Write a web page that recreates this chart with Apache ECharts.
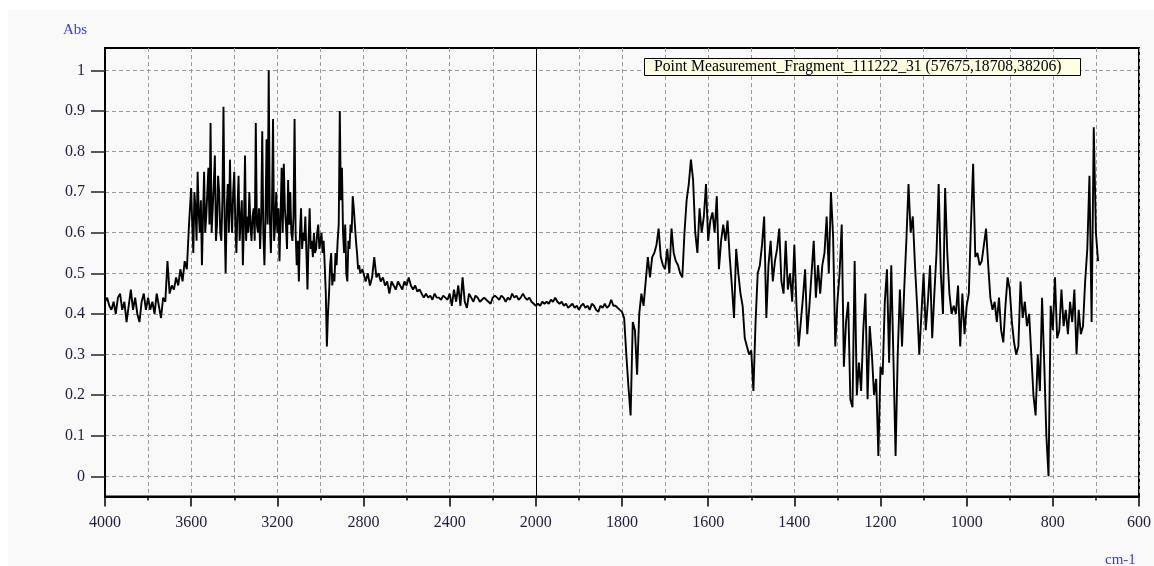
<!DOCTYPE html>
<html><head><meta charset="utf-8">
<script src="https://cdn.jsdelivr.net/npm/echarts@6/dist/echarts.min.js"></script>
<style>
html,body{margin:0;padding:0;background:#fff;}
#chart{position:absolute;left:0;top:0;width:1154px;height:566px;}
</style></head>
<body><div id="chart"></div>
<script>
// Absorbance read off the spectrum, in four sampled stretches (cm-1)
// 4000 -> 3610, step 10
const absA = [
  0.43,0.44,0.42,0.41,0.43,0.40,0.44,0.45,0.41,0.43,
  0.38,0.42,0.46,0.41,0.44,0.40,0.38,0.43,0.45,0.41,
  0.44,0.41,0.43,0.40,0.45,0.42,0.39,0.44,0.43,0.53,
  0.45,0.47,0.46,0.49,0.47,0.51,0.48,0.53,0.51,0.62
];
// 3600 -> 2805, step 5
const absB = [
  0.71,0.62,0.55,0.70,0.66,0.58,0.75,0.65,0.60,0.68,
  0.52,0.64,0.75,0.60,0.64,0.70,0.76,0.62,0.87,0.60,
  0.66,0.72,0.79,0.58,0.62,0.74,0.70,0.60,0.58,0.68,
  0.91,0.64,0.50,0.66,0.72,0.60,0.78,0.66,0.60,0.70,
  0.75,0.62,0.55,0.66,0.74,0.58,0.63,0.68,0.52,0.62,
  0.79,0.58,0.64,0.60,0.70,0.62,0.58,0.64,0.66,0.58,
  0.87,0.62,0.60,0.66,0.56,0.64,0.85,0.60,0.52,0.64,
  0.83,0.62,1.00,0.64,0.55,0.66,0.88,0.58,0.62,0.70,
  0.60,0.66,0.53,0.64,0.76,0.60,0.77,0.66,0.62,0.56,
  0.73,0.62,0.70,0.60,0.58,0.64,0.88,0.60,0.52,0.58,
  0.48,0.60,0.66,0.56,0.60,0.58,0.64,0.55,0.46,0.58,
  0.66,0.56,0.58,0.54,0.60,0.55,0.56,0.60,0.62,0.56,
  0.58,0.60,0.55,0.58,0.52,0.45,0.32,0.40,0.45,0.52,
  0.55,0.47,0.50,0.48,0.55,0.52,0.58,0.62,0.90,0.68,
  0.76,0.60,0.55,0.62,0.50,0.48,0.58,0.56,0.62,0.60,
  0.69,0.66,0.62,0.58,0.55,0.51,0.52,0.50,0.50,0.51
];
// 2800 -> 2010, step 10
const absC = [
  0.51,0.48,0.50,0.47,0.49,0.54,0.49,0.50,0.48,0.49,
  0.47,0.48,0.45,0.48,0.47,0.46,0.48,0.47,0.46,0.48,
  0.47,0.49,0.47,0.46,0.47,0.455,0.46,0.45,0.44,0.45,
  0.44,0.445,0.435,0.45,0.44,0.44,0.435,0.445,0.44,0.435,
  0.45,0.42,0.46,0.43,0.47,0.42,0.49,0.43,0.415,0.45,
  0.44,0.43,0.445,0.44,0.43,0.435,0.44,0.435,0.43,0.425,
  0.44,0.445,0.44,0.435,0.445,0.44,0.43,0.44,0.435,0.45,
  0.44,0.445,0.435,0.44,0.45,0.44,0.435,0.44,0.43,0.425
];
// 2000 -> 695, step 5
const absD = [
  0.42,0.425,0.42,0.43,0.425,0.43,0.425,0.435,0.43,0.44,
  0.43,0.425,0.43,0.42,0.425,0.415,0.42,0.425,0.415,0.42,
  0.41,0.42,0.425,0.415,0.42,0.41,0.425,0.42,0.41,0.405,
  0.42,0.415,0.425,0.415,0.42,0.435,0.42,0.42,0.415,0.41,
  0.405,0.39,0.30,0.22,0.15,0.38,0.36,0.25,0.40,0.45,
  0.42,0.48,0.54,0.49,0.54,0.55,0.57,0.61,0.54,0.52,
  0.51,0.56,0.50,0.61,0.55,0.53,0.52,0.50,0.49,0.60,
  0.68,0.72,0.78,0.73,0.60,0.55,0.66,0.60,0.64,0.72,
  0.58,0.63,0.65,0.60,0.69,0.51,0.58,0.62,0.58,0.63,
  0.54,0.47,0.39,0.56,0.50,0.45,0.42,0.34,0.32,0.30,
  0.31,0.21,0.38,0.50,0.52,0.57,0.64,0.39,0.52,0.58,
  0.48,0.53,0.56,0.61,0.48,0.45,0.58,0.46,0.50,0.43,
  0.57,0.42,0.32,0.38,0.44,0.51,0.35,0.42,0.50,0.58,
  0.44,0.52,0.45,0.52,0.55,0.64,0.50,0.70,0.59,0.32,
  0.43,0.50,0.62,0.27,0.38,0.43,0.19,0.17,0.53,0.20,
  0.28,0.21,0.36,0.45,0.19,0.37,0.30,0.20,0.24,0.05,
  0.27,0.25,0.43,0.51,0.28,0.52,0.29,0.05,0.30,0.46,
  0.32,0.46,0.58,0.72,0.60,0.64,0.52,0.42,0.30,0.40,
  0.50,0.36,0.43,0.52,0.34,0.45,0.55,0.72,0.50,0.40,
  0.71,0.55,0.45,0.40,0.42,0.40,0.47,0.32,0.45,0.35,
  0.42,0.45,0.62,0.77,0.54,0.55,0.52,0.53,0.57,0.61,
  0.52,0.44,0.41,0.43,0.38,0.44,0.36,0.33,0.42,0.49,
  0.46,0.38,0.33,0.30,0.32,0.48,0.39,0.43,0.37,0.40,
  0.30,0.20,0.15,0.30,0.21,0.44,0.28,0.10,0.00,0.42,
  0.36,0.49,0.34,0.36,0.46,0.37,0.41,0.35,0.43,0.38,
  0.46,0.30,0.41,0.35,0.37,0.48,0.56,0.74,0.38,0.86,
  0.60,0.53
];
// [start wavenumber, step] of each stretch
const segStarts = [4000, 3600, 2800, 2000];
const segSteps  = [10, 5, 10, 5];

const yTicks = [0,0.1,0.2,0.3,0.4,0.5,0.6,0.7,0.8,0.9,1];
const xTickLabels = ['4000','3600','3200','2800','2400','2000','1800','1600','1400','1200','1000','800','600'];
const legendText = 'Point Measurement_Fragment_111222_31 (57675,18708,38206)';
const yName = 'Abs', xName = 'cm-1';

// The axis is compressed 2:1 above 2000 cm-1 (common FTIR display)
function toU(wn){ return wn > 2000 ? 2000 + (wn - 2000) / 2 : wn; }
function fromU(u){ return u > 2000 ? 2000 + (u - 2000) * 2 : u; }

const points = [];
[absA, absB, absC, absD].forEach((arr, s) => {
  arr.forEach((a, i) => points.push([toU(segStarts[s] - i * segSteps[s]), a]));
});

const serif = '"Liberation Serif", "Times New Roman", serif';
const labelColor = '#1e1e40';
const gridDash = {color:'#9a9a9a', type:[4,3], width:1};

const chart = echarts.init(document.getElementById('chart'), null, {renderer:'canvas'});
chart.setOption({
  animation:false,
  backgroundColor:'#f9f9f9',
  grid:{left:105, right:14, top:48, bottom:69.4, show:true, borderColor:'#000', borderWidth:2, backgroundColor:'transparent'},
  xAxis:{
    type:'value', min:600, max:3000, interval:200, inverse:true,
    axisLine:{show:true, onZero:false, lineStyle:{color:'#000', width:2}},
    axisTick:{show:true, length:10, lineStyle:{color:'#000', width:1.5}},
    minorTick:{show:true, splitNumber:2, length:4, lineStyle:{color:'#000', width:1.5}},
    axisLabel:{margin:18, color:labelColor, fontFamily:serif, fontSize:16,
      showMinLabel:true, showMaxLabel:true,
      formatter:function(u){ const s = String(Math.round(fromU(u))); return xTickLabels.indexOf(s) >= 0 ? s : ''; }},
    splitLine:{show:true, lineStyle:gridDash},
    minorSplitLine:{show:true, lineStyle:gridDash}
  },
  yAxis:{
    type:'value', min:-0.05, max:1.055,
    axisLine:{show:true, onZero:false, lineStyle:{color:'#000', width:2}},
    axisTick:{show:true, length:14, customValues:yTicks, lineStyle:{color:'#222', width:1.5}},
    axisLabel:{customValues:yTicks, margin:20, color:labelColor, fontFamily:serif, fontSize:16,
      formatter:function(v){ return String(Math.round(v * 10) / 10); }},
    splitLine:{show:true, lineStyle:gridDash}
  },
  series:[{
    type:'line', data:points, showSymbol:false, symbol:'none',
    lineStyle:{color:'#000', width:1.9}, z:5,
    markLine:{silent:true, symbol:['none','none'], label:{show:false},
      lineStyle:{color:'#000', type:'solid', width:1},
      data:[{xAxis:2000}]}
  }],
  graphic:[
    {type:'rect', z:0, shape:{x:0, y:0, width:1154, height:10}, style:{fill:'#fff'}},
    {type:'rect', z:0, shape:{x:0, y:0, width:8, height:566}, style:{fill:'#fff'}},
    {type:'text', z:100, x:63, y:23, style:{text:yName, fill:'#3a3aff', font:'15px ' + serif}},
    {type:'text', z:100, x:1105, y:553, style:{text:xName, fill:'#3a3aff', font:'15px ' + serif}},
    {type:'rect', z:100, shape:{x:644.5, y:58.5, width:436, height:17}, style:{fill:'#ffffe1', stroke:'#000', lineWidth:1}},
    {type:'text', z:101, x:654, y:58.5, style:{text:legendText, fill:'#000', font:'15.7px ' + serif}}
  ]
});
</script>
</body></html>
